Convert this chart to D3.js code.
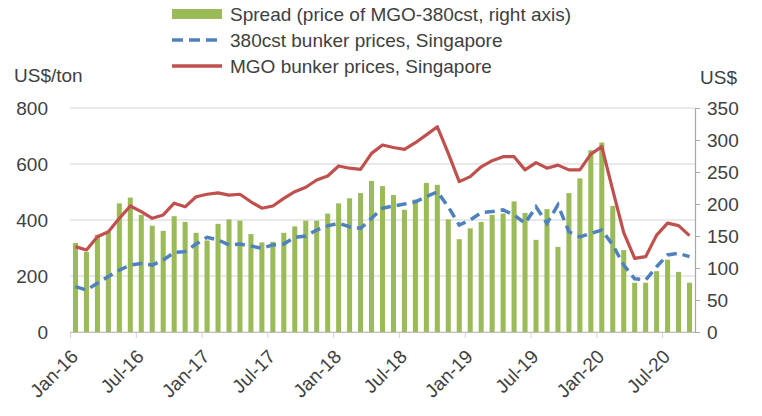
<!DOCTYPE html>
<html>
<head>
<meta charset="utf-8">
<script src="https://cdn.jsdelivr.net/npm/d3@7/dist/d3.min.js"></script>
<style>
  body { margin: 0; background: #fff; }
  svg text { font-family: "Liberation Sans", Arial, sans-serif; fill: #404040; }
</style>
</head>
<body>
<svg id="chart" width="762" height="416"></svg>
<script>
// Monthly categories, Jan-16 .. Sep-20
var months = [
  "Jan-16","Feb-16","Mar-16","Apr-16","May-16","Jun-16","Jul-16","Aug-16","Sep-16","Oct-16","Nov-16","Dec-16",
  "Jan-17","Feb-17","Mar-17","Apr-17","May-17","Jun-17","Jul-17","Aug-17","Sep-17","Oct-17","Nov-17","Dec-17",
  "Jan-18","Feb-18","Mar-18","Apr-18","May-18","Jun-18","Jul-18","Aug-18","Sep-18","Oct-18","Nov-18","Dec-18",
  "Jan-19","Feb-19","Mar-19","Apr-19","May-19","Jun-19","Jul-19","Aug-19","Sep-19","Oct-19","Nov-19","Dec-19",
  "Jan-20","Feb-20","Mar-20","Apr-20","May-20","Jun-20","Jul-20","Aug-20","Sep-20"
];

// Spread MGO - 380cst (right axis, US$)
var spread = [
  139,125,152,157,201,210,183,166,158,181,172,155,
  143,169,176,174,153,140,141,155,165,174,174,185,
  201,209,217,236,228,214,191,207,233,230,176,145,
  162,172,183,185,204,186,144,192,133,217,240,284,
  296,197,128,77,77,95,113,94,77
];

// 380cst bunker prices, Singapore (left axis, US$/ton)
var hsfo = [
  162,150,174,198,221,239,245,239,257,284,287,314,
  338,329,311,314,307,299,311,314,338,343,364,379,
  388,376,370,406,442,450,457,465,483,501,447,382,
  400,426,430,436,418,388,447,388,454,358,340,352,
  364,311,239,190,186,233,275,281,269
];

// MGO bunker prices, Singapore (left axis, US$/ton)
var mgo = [
  305,293,340,358,406,450,430,406,418,460,447,483,
  492,497,489,492,465,442,450,477,501,517,543,557,
  593,585,581,638,668,659,652,676,704,733,638,537,
  555,590,612,626,626,579,605,585,596,579,579,635,
  662,507,355,263,269,346,389,380,344
];

var xTickLabels = ["Jan-16","Jul-16","Jan-17","Jul-17","Jan-18","Jul-18","Jan-19","Jul-19","Jan-20","Jul-20"];
var leftTicks = [0, 200, 400, 600, 800];
var rightTicks = [0, 50, 100, 150, 200, 250, 300, 350];

var legendItems = [
  {label: "Spread (price of MGO-380cst, right axis)", kind: "bar"},
  {label: "380cst bunker prices, Singapore", kind: "dash"},
  {label: "MGO bunker prices, Singapore", kind: "line"}
];

var GREEN = "#9bbb59", BLUE = "#4f81bd", RED = "#c0504d";
var plot = {left: 70, right: 695, top: 108, bottom: 332};

var svg = d3.select("#chart");

// scales
var barPad = 0.54;
var x = d3.scaleBand()
    .domain(months)
    .range([plot.left, plot.right])
    .paddingInner(barPad)
    .paddingOuter(barPad / 2);
var xIdx = d3.scaleLinear().domain([0, months.length]).range([plot.left, plot.right]);
var yL = d3.scaleLinear().domain([0, 800]).range([plot.bottom, plot.top]);
var yR = d3.scaleLinear().domain([0, 350]).range([plot.bottom, plot.top]);

var cx = function(m) { return x(m) + x.bandwidth() / 2; };

// horizontal gridlines (left axis)
svg.append("g")
    .selectAll("line")
    .data(leftTicks)
    .enter().append("line")
      .attr("x1", plot.left).attr("x2", plot.right)
      .attr("y1", function(d) { return yL(d); })
      .attr("y2", function(d) { return yL(d); })
      .attr("stroke", "#d4d4d4")
      .attr("stroke-width", 1.2);

// spread bars
svg.append("g")
    .selectAll("rect")
    .data(months)
    .enter().append("rect")
      .attr("x", function(d) { return x(d); })
      .attr("width", x.bandwidth())
      .attr("y", function(d, i) { return yR(spread[i]); })
      .attr("height", function(d, i) { return yR(0) - yR(spread[i]); })
      .attr("fill", GREEN);

// bottom axis
var xAxis = svg.append("g")
    .attr("transform", "translate(0," + plot.bottom + ")")
    .call(d3.axisBottom(xIdx)
        .tickValues(xTickLabels.map(function(l) { return months.indexOf(l); }))
        .tickSize(6)
        .tickSizeOuter(0)
        .tickFormat(function(i) { return months[i]; }));
xAxis.select(".domain").attr("stroke", "#bfbfbf").attr("stroke-width", 1.2);
xAxis.selectAll(".tick line").attr("stroke", "#d0d0d0");
xAxis.selectAll(".tick text")
    .attr("font-size", 19)
    .attr("text-anchor", "end")
    .attr("dy", "0.35em")
    .attr("transform", "translate(4,21) rotate(-45)")
    .attr("x", 0).attr("y", 0);

// left axis (labels only)
var leftAxis = svg.append("g")
    .attr("transform", "translate(" + (plot.left - 22) + ",0)")
    .call(d3.axisLeft(yL).tickValues(leftTicks).tickSize(0).tickPadding(0));
leftAxis.select(".domain").remove();
leftAxis.selectAll("text").attr("font-size", 19);

// right axis
var rightAxis = svg.append("g")
    .attr("transform", "translate(" + plot.right + ",0)")
    .call(d3.axisRight(yR).tickValues(rightTicks).tickSize(5).tickSizeOuter(0).tickPadding(7));
rightAxis.select(".domain").attr("stroke", "#a6a6a6").attr("stroke-width", 1.2);
rightAxis.selectAll(".tick line").attr("stroke", "#a6a6a6");
rightAxis.selectAll("text").attr("font-size", 19);

// lines
var lineL = function(vals) {
  return d3.line()
      .x(function(d, i) { return cx(months[i]); })
      .y(function(d) { return yL(d); })(vals);
};

svg.append("path")
    .attr("d", lineL(hsfo))
    .attr("fill", "none")
    .attr("stroke", BLUE)
    .attr("stroke-width", 3.5)
    .attr("stroke-dasharray", "10,6");

svg.append("path")
    .attr("d", lineL(mgo))
    .attr("fill", "none")
    .attr("stroke", RED)
    .attr("stroke-width", 3.2)
    .attr("stroke-linejoin", "round");

// axis titles
svg.append("text").attr("x", 14).attr("y", 82).attr("font-size", 19).text("US$/ton");
svg.append("text").attr("x", 700).attr("y", 84).attr("font-size", 19).text("US$");

// legend
var legend = svg.append("g").attr("transform", "translate(172,0)");
legendItems.forEach(function(item, i) {
  var cy = 14 + i * 26;
  if (item.kind === "bar") {
    legend.append("rect").attr("x", 0).attr("y", cy - 5).attr("width", 50).attr("height", 10).attr("fill", GREEN);
  } else {
    legend.append("line")
        .attr("x1", 0).attr("x2", 50).attr("y1", cy).attr("y2", cy)
        .attr("stroke", item.kind === "dash" ? BLUE : RED)
        .attr("stroke-width", 3.5)
        .attr("stroke-dasharray", item.kind === "dash" ? "11,6" : null);
  }
  legend.append("text")
      .attr("x", 58).attr("y", cy)
      .attr("dy", "0.35em")
      .attr("font-size", 19)
      .text(item.label);
});
</script>
</body>
</html>
